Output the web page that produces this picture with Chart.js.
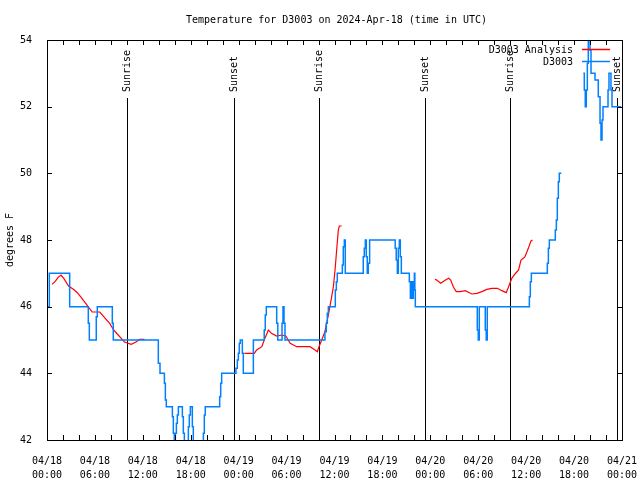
<!DOCTYPE html>
<html>
<head>
<meta charset="utf-8">
<script src="https://cdn.jsdelivr.net/npm/chart.js@4/dist/chart.umd.min.js"></script>
<style>
  html, body { margin: 0; padding: 0; background: #fff; }
</style>
</head>
<body>
<canvas id="tempChart" width="640" height="480"></canvas>
<script>
const titleText = 'Temperature for D3003 on 2024-Apr-18 (time in UTC)';
const yTitle = 'degrees F';

// x axis is hours since 04/18 00:00 UTC
const xTickDates = ['04/18', '04/18', '04/18', '04/18', '04/19', '04/19', '04/19', '04/19', '04/20', '04/20', '04/20', '04/20', '04/21'];
const xTickTimes = ['00:00', '06:00', '12:00', '18:00', '00:00', '06:00', '12:00', '18:00', '00:00', '06:00', '12:00', '18:00', '00:00'];

const sunriseHours = [10.05, 34.07, 58.03];
const sunsetHours = [23.47, 47.38, 71.42];

// observed (stepped), null = missing data
const obsHours = [0.1, 0.29, 2.84, 5.17, 5.3, 6.17, 6.3, 8.18, 8.3, 13.94, 14.15, 14.7, 14.82, 14.94,
  15.7, 15.82, 15.94, 16.07, 16.2, 16.32, 16.45, 16.95, 17.07, 17.2, 17.7, 17.82, 17.95, 18.2, 18.32,
  19.58, 19.7, 19.82, 21.62, 21.75, 21.87, 23.66, 23.83, 23.96, 24.08, 24.2, 24.46, 24.58, 25.84,
  27.2, 27.33, 27.46, 28.76, 28.9, 29.43, 29.55, 29.68, 29.8, 34.8, 34.97, 35.1, 35.23, 36.1, 36.23,
  36.35, 36.98, 37.1, 37.23, 37.35, 39.6, 39.73, 39.86, 39.98, 40.1, 40.23, 40.4, 43.6, 43.73, 43.87,
  43.99, 44.12, 44.24, 44.37, 45.37, 45.5, 45.62, 45.75, 45.87, 46.0, 46.06, 46.12, 53.88, 54.0, 54.13,
  54.88, 55.0, 55.13, 60.4, 60.52, 60.65, 62.65, 62.78, 62.9, 63.65, 63.78, 63.9, 64.03, 64.15, 64.4,
  65.5, 67.16, 67.28, 67.4, 67.53, 67.66, 67.78, 68.0, 68.12, 68.62, 69.03, 69.25, 69.37, 69.5, 69.62,
  70.25, 70.37, 70.5, 70.62, 70.75, 71.9];
const obsTemps = [46, 47, 46, 45.5, 45, 45.7, 46, 45.5, 45, 44.3, 44, 43.7, 43.2, 43,
  42.7, 42.2, 41.5, 42.2, 42.5, 42.75, 43, 42.7, 42.2, 41.5, 42.4, 42.75, 43, 42.4, 41.5,
  42.2, 42.75, 43, 43.3, 43.7, 44, 44.15, 44.4, 44.6, 44.9, 45, 44.6, 44, 45,
  45.3, 45.75, 46, 45.5, 45, 45.5, 46, 45.5, 45, 45.25, 45.5, 45.8, 46, 46.5, 46.75,
  47, 47.25, 47.8, 48, 47, 47.5, 47.75, 48, 47.5, 47, 47.3, 48, 47.75, 47.4, 47,
  47.75, 48, 47.5, 47, 46.75, 46.25, 46.75, 46.25, 46.75, 47, 46.5, 46, 45.3, 45, 46,
  45.3, 45, 46, 46.3, 46.75, 47, 47.3, 47.75, 48, 48.3, 48.6, 49.25, 49.75, 50, 50,
  null, 53, 52.5, 52, 52.5, 53.3, 54.5, 53.7, 53, 52.8, 52.3, 51.5, 51, 51.6, 52,
  52.5, 53, 53, 52.5, 52, 52];

// analysis (smooth), null = gap between runs
const anaHours = [0.63, 1.0, 1.4, 1.75, 2.1, 2.7, 3.3, 3.8, 4.3, 4.75, 5.15, 5.66, 6.6, 7.0, 7.4, 7.85,
  8.35, 8.8, 9.3, 9.7, 10.55, 11.2, 11.6, 12.2,
  18,
  24.7, 25.96, 26.25, 26.9, 27.2, 27.72, 28.1, 28.76, 29.4, 29.9, 30.45, 31.26, 32.93, 33.56, 33.85,
  34.06, 34.4, 34.8, 35.23, 35.65, 35.86, 36.07, 36.27, 36.48, 36.6, 36.9,
  42,
  48.58, 48.8, 49.3, 49.9, 50.3, 50.55, 50.9, 51.25, 51.75, 52.37, 53.2, 53.83, 54.45, 55.08, 55.7,
  56.4, 56.95, 57.5, 57.8, 58.2, 58.6, 59.05, 59.35, 59.65, 59.85, 60.27, 60.6, 60.8];
const anaTemps = [46.67, 46.75, 46.88, 46.95, 46.85, 46.62, 46.52, 46.42, 46.27, 46.13, 46.0, 45.84, 45.84, 45.73, 45.62, 45.5,
  45.3, 45.18, 45.05, 44.94, 44.87, 44.95, 45.02, 45.02,
  null,
  44.6, 44.6, 44.7, 44.8, 45.0, 45.3, 45.2, 45.12, 45.15, 45.12, 44.9, 44.8, 44.8, 44.7, 44.65,
  44.8, 45.0, 45.25, 45.75, 46.3, 46.6, 47.1, 47.7, 48.3, 48.42, 48.42,
  null,
  46.82, 46.8, 46.7, 46.8, 46.85, 46.8, 46.58, 46.45, 46.45, 46.48, 46.38, 46.4, 46.45, 46.52, 46.55,
  46.55, 46.48, 46.42, 46.6, 46.85, 46.98, 47.1, 47.4, 47.45, 47.5, 47.75, 47.97, 48.0];

const FONT = '"DejaVu Sans Mono", "Liberation Mono", monospace';
Chart.defaults.font.family = FONT;
Chart.defaults.font.size = 10;
Chart.defaults.color = '#000';

const toPoints = (xs, ys) => xs.map((h, i) => ({ x: h, y: ys[i] }));

const decor = {
  id: 'decor',
  beforeDatasetsDraw(chart) {
    const { ctx, chartArea: a, scales: { x } } = chart;
    ctx.save();
    ctx.strokeStyle = '#000';
    ctx.fillStyle = '#000';
    ctx.lineWidth = 1;
    ctx.font = '10px ' + FONT;
    const marks = sunriseHours.map(h => [h, 'Sunrise']).concat(sunsetHours.map(h => [h, 'Sunset']));
    marks.forEach(([h, name]) => {
      const px = Math.round(x.getPixelForValue(h)) + 0.5;
      ctx.beginPath();
      ctx.moveTo(px, a.top + 58);
      ctx.lineTo(px, a.bottom);
      ctx.stroke();
      ctx.save();
      ctx.translate(px, a.top + 52);
      ctx.rotate(-Math.PI / 2);
      ctx.textAlign = 'left';
      ctx.textBaseline = 'middle';
      ctx.fillText(name, 0, 0);
      ctx.restore();
    });
    ctx.restore();
  },
  afterDraw(chart) {
    const { ctx, chartArea: a, scales: { x, y } } = chart;
    ctx.save();
    ctx.strokeStyle = '#000';
    ctx.lineWidth = 1;
    // frame
    ctx.strokeRect(Math.round(a.left) + 0.5, Math.round(a.top) + 0.5,
      Math.round(a.right - a.left), Math.round(a.bottom - a.top));
    // inward ticks
    ctx.beginPath();
    for (let h = 2; h < 72; h += 2) {
      const px = Math.round(x.getPixelForValue(h)) + 0.5;
      ctx.moveTo(px, a.bottom); ctx.lineTo(px, a.bottom - 5);
      ctx.moveTo(px, a.top); ctx.lineTo(px, a.top + 5);
    }
    for (let v = 44; v < 54; v += 2) {
      const py = Math.round(y.getPixelForValue(v)) + 0.5;
      ctx.moveTo(a.left, py); ctx.lineTo(a.left + 5, py);
      ctx.moveTo(a.right, py); ctx.lineTo(a.right - 5, py);
    }
    ctx.stroke();

    // title
    ctx.fillStyle = '#000';
    ctx.font = '10px ' + FONT;
    ctx.textAlign = 'center';
    ctx.textBaseline = 'middle';
    ctx.fillText(titleText, (a.left + a.right) / 2 + 2, 20);

    // legend
    ctx.textAlign = 'right';
    chart.data.datasets.forEach((ds, i) => {
      const ly = a.top + 10 + i * 12;
      ctx.fillStyle = '#000';
      ctx.fillText(ds.label, a.right - 49, ly);
      ctx.strokeStyle = ds.borderColor;
      ctx.lineWidth = 1.5;
      ctx.beginPath();
      ctx.moveTo(a.right - 40, ly - 0.5);
      ctx.lineTo(a.right - 12, ly - 0.5);
      ctx.stroke();
    });
    ctx.restore();
  }
};

const ctx = document.getElementById('tempChart').getContext('2d');
new Chart(ctx, {
  type: 'line',
  data: {
    datasets: [{
      label: 'D3003 Analysis',
      data: toPoints(anaHours, anaTemps),
      borderColor: 'rgb(255, 0, 0)',
      borderWidth: 1.2,
      tension: 0,
      spanGaps: false,
      order: 1
    }, {
      label: 'D3003',
      data: toPoints(obsHours, obsTemps),
      borderColor: 'rgb(0, 128, 255)',
      borderWidth: 1.5,
      stepped: true,
      spanGaps: false,
      order: 0
    }]
  },
  options: {
    responsive: false,
    animation: false,
    devicePixelRatio: 1,
    layout: { padding: { top: 40, right: 18, left: 0, bottom: 0 } },
    elements: { point: { radius: 0 } },
    plugins: {
      legend: { display: false },
      tooltip: { enabled: false }
    },
    scales: {
      x: {
        type: 'linear',
        min: 0,
        max: 72,
        grid: { display: false },
        border: { display: false },
        afterFit(scale) {
          scale.height = 40;
          scale.paddingLeft = 0;
          scale.paddingRight = 0;
        },
        ticks: {
          stepSize: 6,
          autoSkip: false,
          maxRotation: 0,
          padding: 6,
          font: { size: 10, lineHeight: 1.45 },
          callback(value) {
            const i = Math.round(value / 6);
            return [xTickDates[i], xTickTimes[i]];
          }
        }
      },
      y: {
        min: 42,
        max: 54,
        grid: { display: false },
        border: { display: false },
        afterFit(scale) {
          scale.width = 47;
          scale.paddingTop = 0;
          scale.paddingBottom = 0;
        },
        ticks: { stepSize: 2, padding: 7 },
        title: { display: true, text: yTitle, padding: { top: 4, bottom: 0 } }
      }
    }
  },
  plugins: [decor]
});
</script>
</body>
</html>
